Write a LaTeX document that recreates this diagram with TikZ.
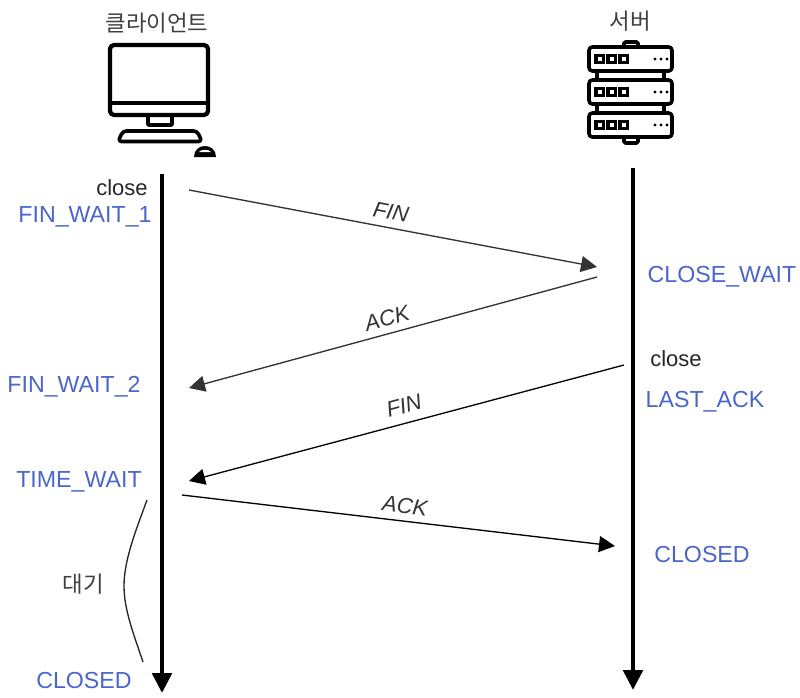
\documentclass[tikz,border=0pt]{standalone}
\usepackage{fontspec}
\setmainfont{Liberation Sans}
\newfontfamily\cjk{Noto Sans CJK KR}[Scale=1]
\usetikzlibrary{arrows.meta}
\definecolor{stateblue}{HTML}{4A66CC}
\definecolor{msggray}{HTML}{333333}
\tikzset{
  lifeline/.style={line width=3.4pt,-{Triangle[length=15,width=14.5]}},
  msg/.style={line width=1pt,color=#1,-{Triangle[length=12,width=12]}},
  msg/.default=black,
  state/.style={font=\fontsize{17.4}{18}\selectfont,text=stateblue,inner sep=0pt},
  plain/.style={font=\fontsize{16.5}{18}\selectfont,text=black!85,inner sep=0pt},
  klabel/.style={font=\cjk\fontsize{16.8}{18}\selectfont,text=black!75,inner sep=0pt},
  msglabel/.style={font=\itshape\fontsize{16.5}{18}\selectfont,text=black!80,inner sep=0pt},
  icon/.style={line width=3.2pt,draw=black,line join=round,rounded corners=3pt},
  iconthin/.style={line width=2.7pt,draw=black,line join=round,rounded corners=2.5pt},
}
\begin{document}
\begin{tikzpicture}[x=0.75pt,y=-0.75pt]
\useasboundingbox[fill=white] (0,0) rectangle (800,697);
% client icon
\draw[icon] (110,45) rectangle (208,115);
\draw[line width=3.2pt] (110,103) -- (208,103);
\draw[iconthin,rounded corners=0.5pt] (148,115) rectangle (172,125);
\draw[iconthin] (123,131) -- (197,131) -- (202,141.5) -- (118,141.5) -- cycle;
\fill (194,157) -- (216,157) .. controls (216,150) and (211,146) .. (205,146) .. controls (199,146) and (194,150) .. (194,157) -- cycle;
\fill[white] (199,152) .. controls (201,149) and (209,149) .. (211,152) -- cycle;
% server icon
\draw[iconthin,rounded corners=1pt] (624,47) -- (624,42) -- (638,42) -- (638,47);
\draw[iconthin,rounded corners=1pt] (624,138) -- (624,143) -- (638,143) -- (638,138);
\foreach \yt in {47,80,113}{
  \draw[iconthin] (589,\yt) rectangle (672,\yt+24);
  \foreach \xs in {596,608,620}{
    \draw[line width=2.4pt] (\xs,\yt+8.5) rectangle (\xs+7.5,\yt+15.5);
  }
  \foreach \xd in {655,661,667}{
    \fill (\xd,\yt+12) circle (1.7);
  }
}
\foreach \yt in {71,104}{
  \draw[line width=2.7pt] (597,\yt) -- (597,\yt+9);
  \draw[line width=2.7pt] (664,\yt) -- (664,\yt+9);
}
% titles
\node[klabel] (clientlabel) at (157,23) {클라이언트};
\node[klabel] (serverlabel) at (630,21) {서버};
% lifelines
\coordinate (clienttop) at (162,174);
\coordinate (clientbot) at (162,693);
\coordinate (servertop) at (633,168);
\coordinate (serverbot) at (633,690);
\draw[lifeline] (clienttop) -- (clientbot);
\draw[lifeline] (servertop) -- (serverbot);
% messages
\coordinate (f1a) at (189,190);
\coordinate (f1b) at (597,267);
\coordinate (a1a) at (597,277);
\coordinate (a1b) at (189,388);
\coordinate (f2a) at (624,365);
\coordinate (f2b) at (189,481);
\coordinate (a2a) at (182,495);
\coordinate (a2b) at (615,546);
\draw[msg=msggray] (f1a) -- (f1b);
\draw[msg=msggray] (a1a) -- (a1b);
\draw[msg] (f2a) -- (f2b);
\draw[msg] (a2a) -- (a2b);
\node[msglabel,rotate=-11] (fin1) at (391,212) {FIN};
\node[msglabel,rotate=15] (ack1) at (387,318) {ACK};
\node[msglabel,rotate=15] (fin2) at (404,406) {FIN};
\node[msglabel,rotate=-7] (ack2) at (405,506) {ACK};
% states
\node[plain] (close1) at (122,188) {close};
\node[state] (fw1) at (85,217) {FIN\_WAIT\_1};
\node[state] (cw) at (722,277) {CLOSE\_WAIT};
\node[plain] (close2) at (676,359) {close};
\node[state] (fw2) at (74,387) {FIN\_WAIT\_2};
\node[state] (la) at (705,402) {LAST\_ACK};
\node[state] (tw) at (79,482) {TIME\_WAIT};
\node[state] (cs) at (702,555) {CLOSED};
\node[state] (cc) at (84,681) {CLOSED};
\node[klabel] (wait) at (83,584) {대기};
% brace curve
\coordinate (ba) at (147,500);
\coordinate (bm) at (124,586);
\coordinate (bb) at (143,662);
\draw[line width=1pt,black!85] (ba) .. controls (136,530) and (124,560) .. (bm) .. controls (124,610) and (134,635) .. (bb);
\end{tikzpicture}
\end{document}
